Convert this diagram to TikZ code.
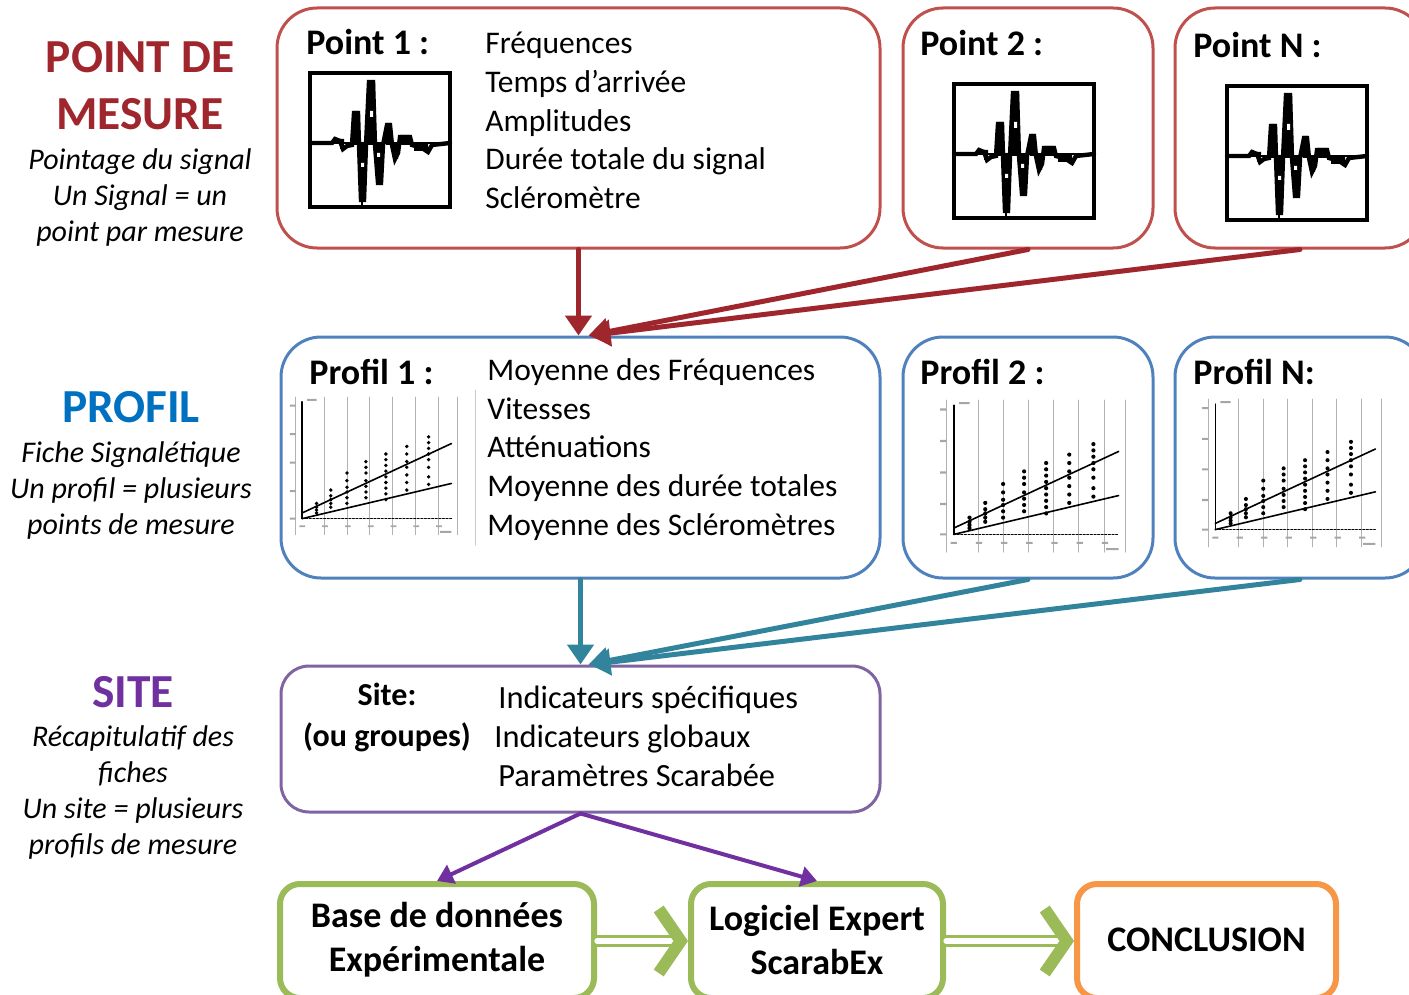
\documentclass[tikz,border=0pt]{standalone}
\usepackage{fontspec}
\setmainfont{Carlito}
\usetikzlibrary{arrows.meta}
\usepackage{xcolor}

\definecolor{ptred}{RGB}{192,80,77}
\definecolor{ptdark}{RGB}{160,38,46}
\definecolor{pfblue}{RGB}{79,129,189}
\definecolor{pftitle}{RGB}{0,112,192}
\definecolor{pfteal}{RGB}{49,132,155}
\definecolor{stlila}{RGB}{128,100,162}
\definecolor{stpurple}{RGB}{112,48,160}
\definecolor{bgreen}{RGB}{155,187,89}
\definecolor{borange}{RGB}{247,150,70}

% small oscillogram (140 x 134 px)
\newcommand{\signalplot}[2]{%
  \begin{scope}[shift={(#1,#2)}]
    \draw[line width=2pt] (0,0) rectangle (140,134);
    \draw[line width=1.2pt] (0,70) -- (140,70);
    \draw[line width=1.4pt] (52,70) -- (52,134);
    \fill (43,38) rectangle (49,72) (50,70) rectangle (55,128) (58,8) rectangle (65,72)
      (66,70) rectangle (72,112) (76,50) rectangle (81,72) (83,70) rectangle (88,86)
      (90,62) rectangle (100,72) (30,66) rectangle (34,76) (104,70) rectangle (118,78);
    \draw[line width=2.2pt,line join=miter] (0,70) -- (22,70) -- (25,66) -- (30,68) -- (33,76) -- (37,73)
      -- (42,72) -- (44,40) -- (48,40) -- (49,72) -- (51,127) -- (54,127) -- (56,72) -- (59,9)
      -- (63,9) -- (65,72) -- (68,110) -- (71,110) -- (73,72) -- (77,52) -- (80,52) -- (82,72)
      -- (85,86) -- (88,80) -- (90,64) -- (100,64) -- (102,72) -- (112,75) -- (118,79) -- (122,72)
      -- (140,70);
    \fill[white] (60,38) rectangle (63,44) (67,80) rectangle (70,84) (51,90) rectangle (54,94);
  \end{scope}}

% small regression chart (180 x 150 px)
\newcommand{\profplot}[3]{%
  \begin{scope}[shift={(#1,#2)},scale=#3]
    \draw[gray!60,line width=0.4pt] (8,0) -- (8,145) (38,0) -- (38,145) (62,0) -- (62,145)
      (86,0) -- (86,145) (110,0) -- (110,145) (134,0) -- (134,145) (158,0) -- (158,145)
      (178,0) -- (178,145);
    \draw[line width=0.8pt] (15,5) -- (15,128);
    \draw[line width=0.8pt,densely dotted] (15,128) -- (172,128);
    \draw[line width=0.8pt] (15,122) -- (172,49) (15,128) -- (172,91);
    \fill[gray!70] (2,8) rectangle (8,10) (2,38) rectangle (8,40) (2,68) rectangle (8,70)
      (2,98) rectangle (8,100) (2,127) rectangle (8,129) (20,2) rectangle (30,4)
      (12,135) rectangle (18,137) (36,135) rectangle (42,137) (60,135) rectangle (66,137)
      (84,135) rectangle (90,137) (108,135) rectangle (114,137) (132,135) rectangle (138,137)
      (156,135) rectangle (162,137) (160,141) rectangle (172,143);
    \fill (30,112) circle (2) (30,116) circle (2) (30,119) circle (2) (30,122) circle (2)
      (45,98) circle (2) (45,104) circle (2) (45,108) circle (2) (45,112) circle (2) (45,116) circle (2)
      (62,80) circle (2) (62,88) circle (2) (62,95) circle (2) (62,100) circle (2) (62,106) circle (2) (62,112) circle (2)
      (82,68) circle (2) (82,74) circle (2) (82,80) circle (2) (82,88) circle (2) (82,94) circle (2) (82,100) circle (2) (82,106) circle (2)
      (103,60) circle (2) (103,66) circle (2) (103,72) circle (2) (103,78) circle (2) (103,84) circle (2) (103,90) circle (2) (103,96) circle (2) (103,102) circle (2) (103,108) circle (2)
      (125,52) circle (2) (125,60) circle (2) (125,68) circle (2) (125,74) circle (2) (125,82) circle (2) (125,90) circle (2) (125,98) circle (2)
      (148,42) circle (2) (148,48) circle (2) (148,54) circle (2) (148,60) circle (2) (148,66) circle (2) (148,74) circle (2) (148,84) circle (2) (148,92) circle (2);
  \end{scope}}

\begin{document}
\begin{tikzpicture}[x=0.5pt,y=-0.5pt,line cap=round,
  box/.style={draw,line width=1.5pt,rounded corners=20pt,inner sep=0pt},
  redbox/.style={box,draw=ptred,minimum height=120pt},
  bluebox/.style={box,draw=pfblue,minimum height=120.5pt},
  endbox/.style={draw,line width=3pt,rounded corners=10pt,minimum height=57pt,inner sep=0pt},
  ttl/.style={font=\fontsize{23.7}{28.5}\selectfont\bfseries,align=center,inner sep=0pt},
  sub/.style={font=\fontsize{15}{18}\selectfont\itshape,align=center,inner sep=0pt},
  lbl/.style={font=\fontsize{18}{22}\selectfont\bfseries,anchor=west,inner sep=0pt},
  lst/.style={font=\fontsize{15.75}{19.4}\selectfont,align=left,anchor=west,inner sep=0pt},
  bold/.style={font=\fontsize{18}{22}\selectfont\bfseries,align=center,inner sep=0pt},
  rarr/.style={draw=ptdark,line width=2.5pt,-{Triangle[length=10pt,width=13pt]}},
  tarr/.style={draw=pfteal,line width=2.5pt,-{Triangle[length=10pt,width=13pt]}},
  parr/.style={draw=stpurple,line width=2pt,-{Triangle[length=8pt,width=10pt]}},
  garr/.style={draw=bgreen,line width=1.6pt,double=white,double distance=2.6pt,
    -{Straight Barb[length=11pt,width=32pt,line width=6pt]}}]
\useasboundingbox (0,0) rectangle (1409,995);

% left column
\node[ttl,text=ptdark] (mesT) at (140,86) {POINT DE\\MESURE};
\node[sub] (mesS) at (140,198) {Pointage du signal\\Un Signal = un\\point par mesure};
\node[ttl,text=pftitle] (pfT) at (131,407) {PROFIL};
\node[sub] (pfS) at (131,490) {Fiche Signalétique\\Un profil = plusieurs\\points de mesure};
\node[ttl,text=stpurple] (stT) at (133,692) {SITE};
\node[sub] (stS) at (133,792) {Récapitulatif des\\fiches\\Un site = plusieurs\\profils de mesure};

% points de mesure
\node[redbox,minimum width=301.5pt] (pt1) at (578.5,128) {};
\node[redbox,minimum width=125pt] (pt2) at (1028,128) {};
\node[redbox,minimum width=125pt] (ptN) at (1300,128) {};
\node[lbl] (pt1l) at (306,42) {Point 1 :};
\node[lbl] (pt2l) at (920,43) {Point 2 :};
\node[lbl] (ptNl) at (1193,45) {Point N :};
\node[lst] (pt1t) at (485,120.5) {Fréquences\\Temps d’arrivée\\Amplitudes\\Durée totale du signal\\Scléromètre};
\signalplot{310}{73}
\signalplot{954}{84}
\signalplot{1227}{86}

% profils
\node[bluebox,minimum width=299.5pt] (pf1) at (580.5,457.5) {};
\node[bluebox,minimum width=125pt] (pf2) at (1028,457.5) {};
\node[bluebox,minimum width=125pt] (pfN) at (1300,457.5) {};
\node[lbl] (pf1l) at (309,372) {Profil 1 :};
\node[lbl] (pf2l) at (920,372) {Profil 2 :};
\node[lbl] (pfNl) at (1193,372) {Profil N:};
\node[lst] (pf1t) at (487,449.5) {Moyenne des Fréquences\\Vitesses\\Atténuations\\Moyenne des durée totales\\Moyenne des Scléromètres};
\draw[gray!40,line width=0.5pt] (475,390) -- (475,545);
\profplot{288}{397}{0.95}
\profplot{938}{400}{1.05}
\profplot{1200}{399}{1.02}

% site
\node[box,draw=stlila,rounded corners=14pt,minimum width=299.5pt,minimum height=73pt] (site) at (580.5,739) {};
\node[font=\fontsize{16}{20.5}\selectfont\bfseries,align=center,inner sep=0pt] (sitel) at (387,717.5) {Site:\\(ou groupes)};
\node[lst,font=\fontsize{16.2}{19.5}\selectfont] (sitet) at (494,736) {\hspace*{2pt}Indicateurs spécifiques\\Indicateurs globaux\\\hspace*{2pt}Paramètres Scarabée};

% sorties
\node[endbox,draw=bgreen,minimum width=157pt] (base) at (437,941) {};
\node[endbox,draw=bgreen,minimum width=126pt] (logi) at (817,941) {};
\node[endbox,draw=borange,minimum width=129.5pt] (concl) at (1206.5,941) {};
\node[bold] (baset) at (437,940) {Base de données\\Expérimentale};
\node[bold] (logit) at (817,940) {Logiciel Expert\\ScarabEx};
\node[bold] (conclt) at (1206.5,940) {CONCLUSION};

% liaisons
\draw[rarr] (pt1.south) -- (pt1.south |- pf1.north);
\draw[rarr] (pt2.south) -- ([xshift=4pt]pf1.north);
\draw[rarr] (ptN.south) -- ([xshift=5pt]pf1.north);
\draw[tarr] (pf1.south) -- (site.north);
\draw[tarr] (pf2.south) -- ([xshift=4pt]site.north);
\draw[tarr] (pfN.south) -- ([xshift=5pt]site.north);
\draw[parr] (site.south) -- (base.north);
\draw[parr] (site.south) -- (logi.north);
\draw[garr] (base.east) -- (logi.west);
\draw[garr] (logi.east) -- (concl.west);
\end{tikzpicture}
\end{document}
